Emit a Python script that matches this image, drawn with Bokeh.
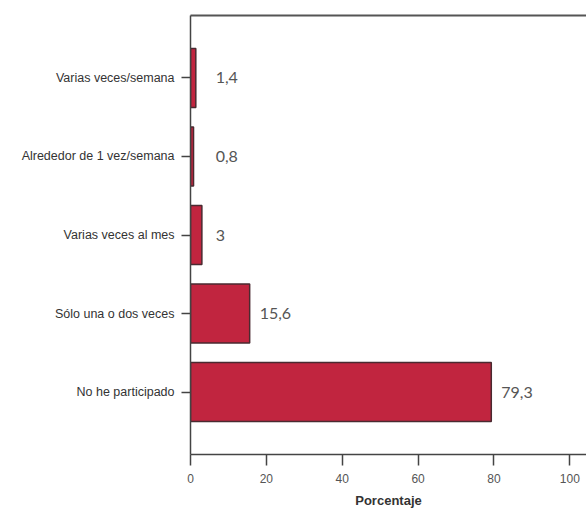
from bokeh.plotting import figure
from bokeh.models import FactorRange, Range1d, LinearAxis, ColumnDataSource, FixedTicker
from bokeh.core.properties import value
from bokeh.embed import file_html
from bokeh.resources import INLINE
import numpy as np

categories = ["No he participado", "Sólo una o dos veces", "Varias veces al mes",
              "Alrededor de 1 vez/semana", "Varias veces/semana"]
values = [79.3, 15.6, 3.0, 0.8, 1.4]
labels = ["79,3", "15,6", "3", "0,8", "1,4"]
x_ticks = [0, 20, 40, 60, 80, 100]

label_x = list(np.maximum(np.array(values), 4.0))

src = ColumnDataSource(dict(cat=categories, val=values, lab=labels, lx=label_x))

p = figure(width=586, height=510, output_backend="svg", toolbar_location=None,
           y_range=FactorRange(factors=categories, range_padding=0.295,
                               range_padding_units="absolute"),
           x_range=Range1d(0, 104.4),
           min_border_left=190, min_border_right=0, min_border_top=15,
           min_border_bottom=52)

p.hbar(y="cat", right="val", left=0, height=0.75, source=src,
       fill_color="#C1253F", line_color="#4a2a30", line_width=1.5)

p.text(x="lx", y="cat", text="lab", source=src, x_offset=10,
       text_font=value("Lato"), text_font_size="16px", text_color="#555555",
       text_align="left", text_baseline="middle")

p.outline_line_color = None
p.grid.visible = False
p.background_fill_color = "white"
p.border_fill_color = "white"

# x axis
xa = p.xaxis[0]
xa.ticker = FixedTicker(ticks=x_ticks)
xa.axis_label = "Porcentaje"
xa.axis_label_text_font = "Liberation Sans"
xa.axis_label_text_font_style = "bold"
xa.axis_label_text_font_size = "13px"
xa.axis_label_text_color = "#333333"
xa.axis_label_standoff = 7
xa.major_label_text_font = "Liberation Sans"
xa.major_label_text_font_size = "12px"
xa.major_label_text_color = "#555555"
xa.major_label_standoff = 8
xa.major_tick_out = 11
xa.major_tick_in = 0
xa.minor_tick_line_color = None
xa.axis_line_color = "#444444"
xa.axis_line_width = 1.5
xa.major_tick_line_color = "#444444"
xa.major_tick_line_width = 1.5

# y axis
ya = p.yaxis[0]
ya.major_label_text_font = "Liberation Sans"
ya.major_label_text_font_size = "12.5px"
ya.major_label_text_color = "#333333"
ya.major_label_standoff = 7
ya.major_tick_out = 9
ya.major_tick_in = 0
ya.axis_line_color = "#444444"
ya.axis_line_width = 1.5
ya.major_tick_line_color = "#444444"
ya.major_tick_line_width = 1.5

# top border line
top = LinearAxis(ticker=FixedTicker(ticks=[]),
                 major_tick_line_color=None, minor_tick_line_color=None,
                 major_tick_out=0, major_tick_in=0,
                 axis_line_color="#555555", axis_line_width=2)
p.add_layout(top, "above")

open("out.html", "w").write(file_html(p, INLINE))
